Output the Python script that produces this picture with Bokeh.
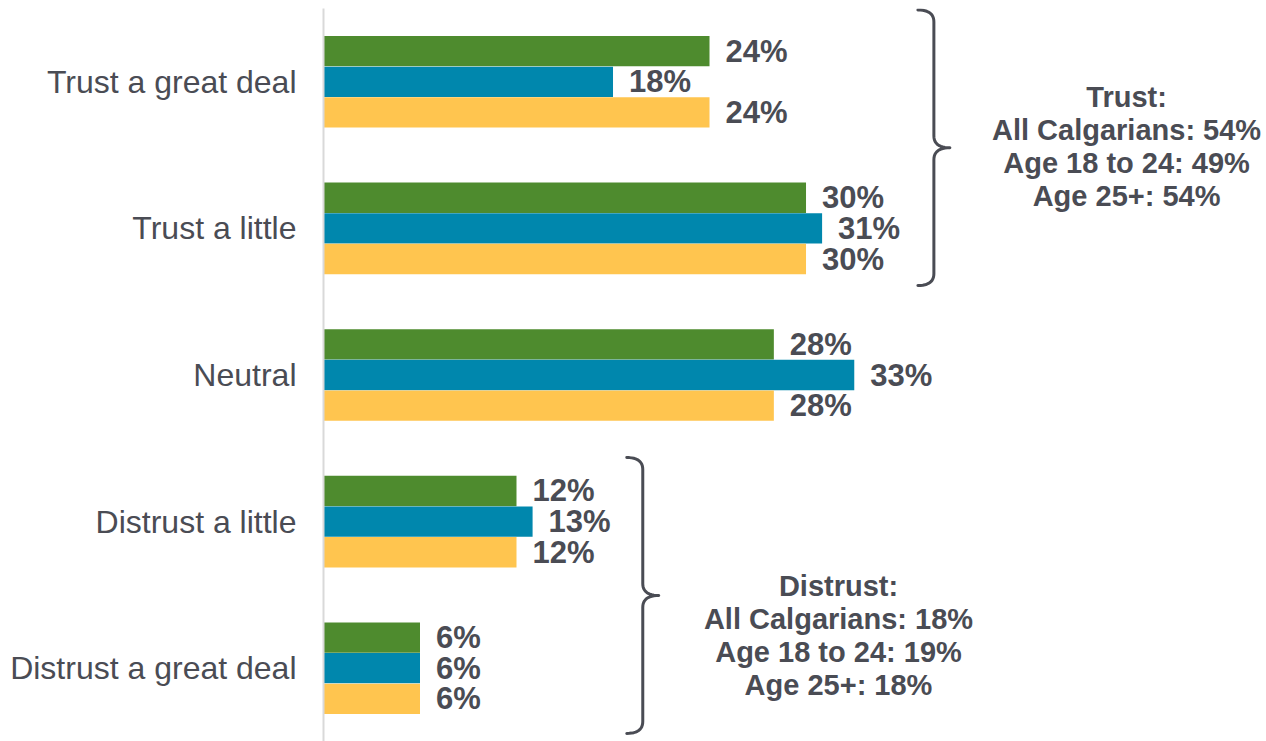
from bokeh.plotting import figure
from bokeh.models import FactorRange, Range1d, ColumnDataSource
from bokeh.transform import dodge
from bokeh.core.properties import value
from bokeh.embed import file_html
from bokeh.resources import INLINE

# ---------------- data ----------------
categories = ["Trust a great deal", "Trust a little", "Neutral",
              "Distrust a little", "Distrust a great deal"]
series = ["All Calgarians", "Age 18 to 24", "Age 25+"]
all_calgarians = [24, 30, 28, 12, 6]
age_18_to_24 = [18, 31, 33, 13, 6]
age_25_plus = [24, 30, 28, 12, 6]
trust_totals = [54, 49, 54]
distrust_totals = [18, 19, 18]

colors = ["#4E8B2E", "#0087AD", "#FFC54F"]
text_color = "#4A4C54"
font = "Liberation Sans"

# ---------------- layout ----------------
W, H = 1266, 741
LEFT = 323
TOP = 8
X_END = 58.63
frame_w = W - LEFT
px_x = frame_w / X_END          # pixels per % unit
px_y = (H - TOP) / len(categories)  # pixels per category unit

p = figure(width=W, height=H, output_backend="svg", toolbar_location=None,
           y_range=FactorRange(factors=categories[::-1]),
           x_range=Range1d(0, X_END),
           min_border_left=LEFT, min_border_right=0,
           min_border_top=TOP, min_border_bottom=0)
p.outline_line_color = None
p.xgrid.visible = False
p.ygrid.visible = False
p.xaxis.visible = False
p.background_fill_color = "white"
p.border_fill_color = "white"

ax = p.yaxis[0]
ax.axis_line_color = "#D9D9D9"
ax.axis_line_width = 2
ax.major_tick_out = 0
ax.major_tick_in = 0
ax.minor_tick_out = 0
ax.major_label_standoff = 27
ax.major_label_text_font = font
ax.major_label_text_font_size = "32px"
ax.major_label_text_color = text_color

# ---------------- bars + labels ----------------
bar_h = 0.207
step = 0.209
offsets = [step, 0.0, -step]
for vals, col, off in zip([all_calgarians, age_18_to_24, age_25_plus], colors, offsets):
    src = ColumnDataSource(dict(cat=categories, val=vals,
                                lab=[f"{v}%" for v in vals]))
    yd = dodge("cat", off, range=p.y_range)
    p.hbar(y=yd, left=0, right="val", height=bar_h, source=src,
           fill_color=col, line_color=None)
    p.text(x="val", y=yd, text="lab", source=src, x_offset=16,
           text_align="left", text_baseline="middle",
           text_font=value(font), text_font_style="bold",
           text_font_size=value("31px"), text_color=text_color)

# ---------------- braces ----------------
def quad(p0, c, p1, n=12):
    pts = []
    for i in range(n + 1):
        t = i / n
        x = (1 - t) ** 2 * p0[0] + 2 * (1 - t) * t * c[0] + t ** 2 * p1[0]
        y = (1 - t) ** 2 * p0[1] + 2 * (1 - t) * t * c[1] + t ** 2 * p1[1]
        pts.append((x, y))
    return pts

def brace(xv, top, tip, bottom, w_px=16, ry_px=12):
    w = w_px / px_x
    ry = ry_px / px_y
    pts = []
    pts += quad((xv - w, top), (xv, top), (xv, top - ry))
    pts += [(xv, tip + ry)]
    pts += quad((xv, tip + ry), (xv, tip), (xv + w, tip))
    pts += quad((xv + w, tip), (xv, tip), (xv, tip - ry))
    pts += [(xv, bottom + ry)]
    pts += quad((xv, bottom + ry), (xv, bottom), (xv - w, bottom))
    return [q[0] for q in pts], [q[1] for q in pts]

bx1, by1 = brace(37.95, 4.99, 4.05, 3.11)
bx2, by2 = brace(19.85, 1.937, 0.996, 0.055)
p.multi_line(xs=[bx1, bx2], ys=[by1, by2], line_color=text_color,
             line_width=3, line_cap="round", line_join="round")

# ---------------- summary text ----------------
def summary(title, totals, xc, yc):
    lines = [title] + [f"{s}: {t}%" for s, t in zip(series, totals)]
    n = len(lines)
    gap = 33
    for i, line in enumerate(lines):
        p.text(x=[xc], y=[yc], text=[line],
               y_offset=(i - (n - 1) / 2) * gap,
               text_align="center", text_baseline="middle",
               text_font=value(font), text_font_style="bold",
               text_font_size=value("29px"), text_color=text_color)

summary("Trust:", trust_totals, 49.93, 4.062)
summary("Distrust:", distrust_totals, 32.02, 0.726)

open("out.html", "w").write(file_html(p, INLINE))
